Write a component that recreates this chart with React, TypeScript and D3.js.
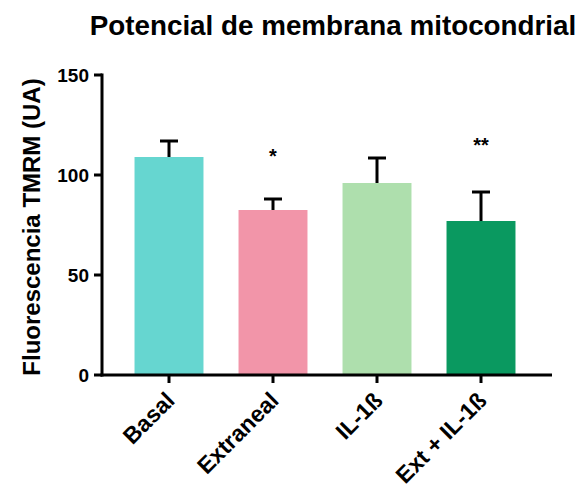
import React from "react";
import * as d3 from "d3";

const categories = ["Basal", "Extraneal", "IL-1ß", "Ext + IL-1ß"];
const means = [109, 82.5, 96, 77];
const errors = [8, 5.5, 12.5, 14.5];
const significance = ["", "*", "", "**"];
const colors = ["#66D6D0", "#F295A9", "#AEDFAD", "#0A9960"];
const yTicks = [0, 50, 100, 150];

const W = 586;
const H = 490;
const FONT = "'Liberation Sans', Arial, sans-serif";

export default function App() {
  const x = d3
    .scaleBand<string>()
    .domain(categories)
    .range([117, 533])
    .paddingInner(0.337)
    .paddingOuter(0.1685);
  const y = d3.scaleLinear().domain([0, 150]).range([375, 75]);
  const axisX0 = 102;
  const axisX1 = 552;
  const y0 = y(0);

  return (
    <svg
      width={W}
      height={H}
      style={{ position: "absolute", left: 0, top: 0, background: "#fff" }}
      fontFamily={FONT}
    >
      <text
        x={333}
        y={35}
        textAnchor="middle"
        fontSize={27.8}
        fontWeight="bold"
        fill="#000"
      >
        Potencial de membrana mitocondrial
      </text>
      <text
        transform={`translate(40,${(y(0) + y(150)) / 2 + 2}) rotate(-90)`}
        textAnchor="middle"
        fontSize={24}
        fontWeight="bold"
        fill="#000"
      >
        Fluorescencia TMRM (UA)
      </text>

      {categories.map((c, i) => {
        const bx = x(c)!;
        const bw = x.bandwidth();
        const cx = bx + bw / 2;
        const top = y(means[i]);
        const errTop = y(means[i] + errors[i]);
        return (
          <g key={c}>
            <rect x={bx} y={top} width={bw} height={y0 - top} fill={colors[i]} />
            <line x1={cx} x2={cx} y1={top} y2={errTop} stroke="#000" strokeWidth={3} />
            <line x1={cx - 9} x2={cx + 9} y1={errTop} y2={errTop} stroke="#000" strokeWidth={3} />
            {significance[i] && (
              <text
                x={cx}
                y={errTop - (i === 3 ? 40 : 36)}
                textAnchor="middle"
                fontSize={20}
                fontWeight="bold"
                fill="#000"
              >
                {significance[i]}
              </text>
            )}
            <line x1={cx} x2={cx} y1={y0} y2={y0 + 8} stroke="#000" strokeWidth={3} />
            <text
              transform={`translate(${cx + 7},${y0 + 27}) rotate(-45)`}
              textAnchor="end"
              fontSize={23}
              fontWeight="bold"
              fill="#000"
            >
              {c}
            </text>
          </g>
        );
      })}

      {/* y axis */}
      <line x1={axisX0} x2={axisX0} y1={y(150) - 1.5} y2={y0 + 1.5} stroke="#000" strokeWidth={3} />
      {yTicks.map((t) => (
        <g key={t}>
          <line x1={axisX0 - 8} x2={axisX0} y1={y(t)} y2={y(t)} stroke="#000" strokeWidth={3} />
          <text
            x={axisX0 - 13}
            y={y(t)}
            dy="0.36em"
            textAnchor="end"
            fontSize={19}
            fontWeight="bold"
            fill="#000"
          >
            {t}
          </text>
        </g>
      ))}
      {/* x axis */}
      <line x1={axisX0 - 1.5} x2={axisX1} y1={y0} y2={y0} stroke="#000" strokeWidth={3} />
    </svg>
  );
}
